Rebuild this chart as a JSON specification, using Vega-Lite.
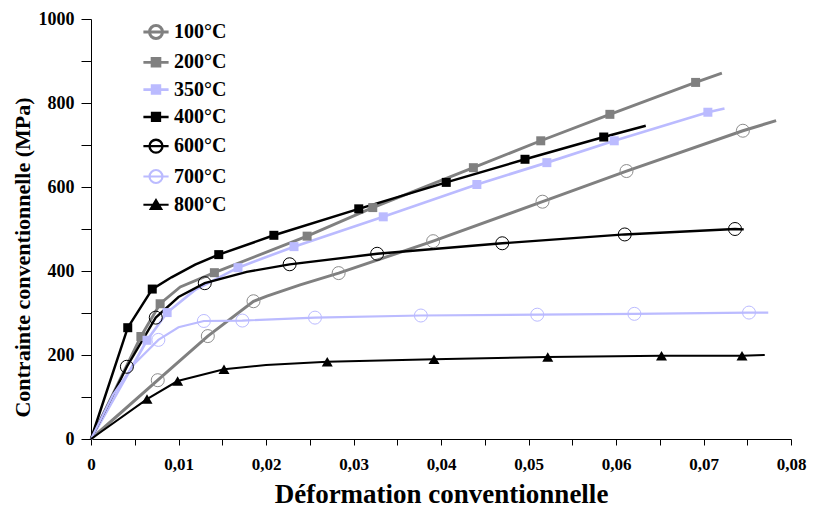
{
  "$schema": "https://vega.github.io/schema/vega-lite/v6.json",
  "width": 700,
  "height": 420,
  "autosize": {"type": "none"},
  "padding": {"left": 91, "top": 19, "right": 30, "bottom": 68},
  "background": "white",
  "config": {
    "view": {"stroke": null},
    "font": "Liberation Serif",
    "axis": {
      "grid": false,
      "domainColor": "black",
      "tickColor": "black",
      "labelFont": "Liberation Serif",
      "labelFontWeight": "bold",
      "labelColor": "black",
      "labelFontSize": 17,
      "titleFont": "Liberation Serif",
      "titleFontWeight": "bold",
      "titleColor": "black"
    }
  },
  "data": {
    "values": [
      {"serie": "100°C", "e": 0, "s": 0, "m": 0},
      {"serie": "100°C", "e": 0.00763, "s": 140, "m": 1},
      {"serie": "100°C", "e": 0.01335, "s": 245, "m": 1},
      {"serie": "100°C", "e": 0.01857, "s": 328, "m": 1},
      {"serie": "100°C", "e": 0.0201, "s": 340, "m": 0},
      {"serie": "100°C", "e": 0.0239, "s": 367, "m": 0},
      {"serie": "100°C", "e": 0.0283, "s": 395, "m": 1},
      {"serie": "100°C", "e": 0.0391, "s": 471, "m": 1},
      {"serie": "100°C", "e": 0.0516, "s": 565, "m": 1},
      {"serie": "100°C", "e": 0.0612, "s": 638, "m": 1},
      {"serie": "100°C", "e": 0.0745, "s": 734, "m": 1},
      {"serie": "100°C", "e": 0.0783, "s": 758, "m": 0},

      {"serie": "200°C", "e": 0, "s": 0, "m": 0},
      {"serie": "200°C", "e": 0.0057, "s": 244, "m": 1},
      {"serie": "200°C", "e": 0.0079, "s": 322, "m": 1},
      {"serie": "200°C", "e": 0.0102, "s": 362, "m": 0},
      {"serie": "200°C", "e": 0.0141, "s": 396, "m": 1},
      {"serie": "200°C", "e": 0.0247, "s": 483, "m": 1},
      {"serie": "200°C", "e": 0.0322, "s": 551, "m": 1},
      {"serie": "200°C", "e": 0.0437, "s": 646, "m": 1},
      {"serie": "200°C", "e": 0.0514, "s": 710, "m": 1},
      {"serie": "200°C", "e": 0.0593, "s": 773, "m": 1},
      {"serie": "200°C", "e": 0.0691, "s": 849, "m": 1},
      {"serie": "200°C", "e": 0.0721, "s": 871, "m": 0},

      {"serie": "350°C", "e": 0, "s": 0, "m": 0},
      {"serie": "350°C", "e": 0.0064, "s": 235, "m": 1},
      {"serie": "350°C", "e": 0.0087, "s": 301, "m": 1},
      {"serie": "350°C", "e": 0.0119, "s": 355, "m": 0},
      {"serie": "350°C", "e": 0.0168, "s": 408, "m": 1},
      {"serie": "350°C", "e": 0.0232, "s": 458, "m": 1},
      {"serie": "350°C", "e": 0.0334, "s": 529, "m": 1},
      {"serie": "350°C", "e": 0.0441, "s": 606, "m": 1},
      {"serie": "350°C", "e": 0.0521, "s": 658, "m": 1},
      {"serie": "350°C", "e": 0.0598, "s": 710, "m": 1},
      {"serie": "350°C", "e": 0.0705, "s": 778, "m": 1},
      {"serie": "350°C", "e": 0.0724, "s": 787, "m": 0},

      {"serie": "400°C", "e": 0, "s": 0, "m": 0},
      {"serie": "400°C", "e": 0.0042, "s": 265, "m": 1},
      {"serie": "400°C", "e": 0.0070, "s": 357, "m": 1},
      {"serie": "400°C", "e": 0.0092, "s": 385, "m": 0},
      {"serie": "400°C", "e": 0.0119, "s": 415, "m": 0},
      {"serie": "400°C", "e": 0.0146, "s": 439, "m": 1},
      {"serie": "400°C", "e": 0.0209, "s": 485, "m": 1},
      {"serie": "400°C", "e": 0.0306, "s": 548, "m": 1},
      {"serie": "400°C", "e": 0.0406, "s": 611, "m": 1},
      {"serie": "400°C", "e": 0.0496, "s": 666, "m": 1},
      {"serie": "400°C", "e": 0.0586, "s": 719, "m": 1},
      {"serie": "400°C", "e": 0.0634, "s": 746, "m": 0},

      {"serie": "600°C", "e": 0, "s": 0, "m": 0},
      {"serie": "600°C", "e": 0.0041, "s": 172, "m": 1},
      {"serie": "600°C", "e": 0.0074, "s": 289, "m": 1},
      {"serie": "600°C", "e": 0.0100, "s": 338, "m": 0},
      {"serie": "600°C", "e": 0.0130, "s": 371, "m": 1},
      {"serie": "600°C", "e": 0.0178, "s": 398, "m": 0},
      {"serie": "600°C", "e": 0.0227, "s": 416, "m": 1},
      {"serie": "600°C", "e": 0.0327, "s": 441, "m": 1},
      {"serie": "600°C", "e": 0.0470, "s": 466, "m": 1},
      {"serie": "600°C", "e": 0.0610, "s": 487, "m": 1},
      {"serie": "600°C", "e": 0.0736, "s": 500, "m": 1},
      {"serie": "600°C", "e": 0.0746, "s": 499, "m": 0},

      {"serie": "700°C", "e": 0, "s": 0, "m": 0},
      {"serie": "700°C", "e": 0.0025, "s": 105, "m": 0},
      {"serie": "700°C", "e": 0.0050, "s": 180, "m": 0},
      {"serie": "700°C", "e": 0.0077, "s": 236, "m": 1},
      {"serie": "700°C", "e": 0.0100, "s": 266, "m": 0},
      {"serie": "700°C", "e": 0.0129, "s": 281, "m": 1},
      {"serie": "700°C", "e": 0.0173, "s": 282, "m": 1},
      {"serie": "700°C", "e": 0.0256, "s": 289, "m": 1},
      {"serie": "700°C", "e": 0.0377, "s": 294, "m": 1},
      {"serie": "700°C", "e": 0.0510, "s": 296, "m": 1},
      {"serie": "700°C", "e": 0.0621, "s": 298, "m": 1},
      {"serie": "700°C", "e": 0.0752, "s": 301, "m": 1},
      {"serie": "700°C", "e": 0.0774, "s": 301, "m": 0},

      {"serie": "800°C", "e": 0, "s": 0, "m": 0},
      {"serie": "800°C", "e": 0.0064, "s": 95, "m": 1},
      {"serie": "800°C", "e": 0.0099, "s": 138, "m": 1},
      {"serie": "800°C", "e": 0.0152, "s": 166, "m": 1},
      {"serie": "800°C", "e": 0.0200, "s": 176, "m": 0},
      {"serie": "800°C", "e": 0.0270, "s": 184, "m": 1},
      {"serie": "800°C", "e": 0.0392, "s": 190, "m": 1},
      {"serie": "800°C", "e": 0.0522, "s": 195, "m": 1},
      {"serie": "800°C", "e": 0.0652, "s": 198, "m": 1},
      {"serie": "800°C", "e": 0.0744, "s": 198, "m": 1},
      {"serie": "800°C", "e": 0.0770, "s": 200, "m": 0}
    ]
  },
  "layer": [
    {
      "mark": {"type": "line"},
      "encoding": {
        "x": {
          "field": "e",
          "type": "quantitative",
          "scale": {"domain": [0, 0.08], "nice": false},
          "axis": {
            "title": "Déformation conventionnelle",
            "titleFontSize": 27,
            "titleY": 55,
            "titleBaseline": "middle",
            "values": [0, 0.005, 0.01, 0.015, 0.02, 0.025, 0.03, 0.035, 0.04, 0.045, 0.05, 0.055, 0.06, 0.065, 0.07, 0.075, 0.08],
            "labelExpr": "round(datum.value * 1000) % 10 === 0 ? (datum.value === 0 ? '0' : replace(format(datum.value, '.2f'), '.', ',')) : ''",
            "labelFlush": false,
            "labelOverlap": false,
            "tickSize": 6,
            "labelPadding": 11
          }
        },
        "y": {
          "field": "s",
          "type": "quantitative",
          "scale": {"domain": [0, 1000], "nice": false},
          "axis": {
            "title": "Contrainte conventionnelle (MPa)",
            "titleFontSize": 22,
            "titleX": -69,
            "titleY": 238,
            "titleBaseline": "middle",
            "titleAlign": "center",
            "values": [0, 100, 200, 300, 400, 500, 600, 700, 800, 900, 1000],
            "labelExpr": "datum.value % 200 === 0 ? format(datum.value, 'd') : ''",
            "labelOverlap": false,
            "tickSize": 10,
            "labelPadding": 7,
            "labelFontSize": 18,
            "encode": {"ticks": {"update": {"x2": {"signal": "datum.value % 200 === 0 ? -10 : -4.5"}}}}
          }
        },
        "color": {
          "field": "serie",
          "type": "nominal",
          "scale": {
            "domain": ["100°C", "200°C", "350°C", "400°C", "600°C", "700°C", "800°C"],
            "range": ["#808080", "#808080", "#bbbbff", "#000000", "#000000", "#bbbbff", "#000000"]
          },
          "legend": {
            "title": null,
            "orient": "none",
            "legendX": 55,
            "legendY": 3,
            "padding": 0,
            "symbolSize": 144,
            "symbolOffset": 0,
            "labelOffset": 8,
            "rowPadding": 7.3,
            "labelFont": "Liberation Serif",
            "labelFontWeight": "bold",
            "labelFontSize": 20,
            "labelColor": "black",
            "encode": {
              "symbols": {
                "update": {
                  "shape": {"signal": "(datum.value === '100°C' || datum.value === '600°C' || datum.value === '700°C') ? 'M-2.1,0H2.1M-1.08,0A1.08,1.08,0,1,0,1.08,0A1.08,1.08,0,1,0,-1.08,0Z' : (datum.value === '800°C' ? 'M-2.1,0H2.1M0,-0.8L0.9,0.7H-0.9Z' : 'M-2.1,0H2.1M-0.65,-0.65H0.65V0.65H-0.65Z')"},
                  "fill": {"signal": "(datum.value === '100°C' || datum.value === '600°C' || datum.value === '700°C') ? 'transparent' : scale('color', datum.value)"},
                  "stroke": {"signal": "scale('color', datum.value)"},
                  "strokeWidth": {"signal": "datum.value === '800°C' ? 1 : 2"},
                  "opacity": {"value": 1}
                }
              }
            }
          }
        },
        "strokeWidth": {
          "field": "serie",
          "type": "ordinal",
          "scale": {
            "domain": ["100°C", "200°C", "350°C", "400°C", "600°C", "700°C", "800°C"],
            "range": [3, 2, 2, 2, 2.5, 3, 1]
          },
          "legend": null
        },
        "order": {"field": "e", "type": "quantitative"}
      }
    },
    {
      "transform": [{"filter": "datum.m == 1 && datum.serie == '100°C'"}],
      "mark": {"type": "point", "shape": "circle", "size": 169, "filled": false, "stroke": "#8c8c8c", "strokeWidth": 1, "opacity": 1},
      "encoding": {"x": {"field": "e", "type": "quantitative"}, "y": {"field": "s", "type": "quantitative"}}
    },
    {
      "transform": [{"filter": "datum.m == 1 && datum.serie == '200°C'"}],
      "mark": {"type": "point", "shape": "square", "size": 81, "filled": true, "fill": "#808080", "opacity": 1},
      "encoding": {"x": {"field": "e", "type": "quantitative"}, "y": {"field": "s", "type": "quantitative"}}
    },
    {
      "transform": [{"filter": "datum.m == 1 && datum.serie == '350°C'"}],
      "mark": {"type": "point", "shape": "square", "size": 81, "filled": true, "fill": "#bbbbff", "opacity": 1},
      "encoding": {"x": {"field": "e", "type": "quantitative"}, "y": {"field": "s", "type": "quantitative"}}
    },
    {
      "transform": [{"filter": "datum.m == 1 && datum.serie == '400°C'"}],
      "mark": {"type": "point", "shape": "square", "size": 81, "filled": true, "fill": "#000000", "opacity": 1},
      "encoding": {"x": {"field": "e", "type": "quantitative"}, "y": {"field": "s", "type": "quantitative"}}
    },
    {
      "transform": [{"filter": "datum.m == 1 && datum.serie == '600°C'"}],
      "mark": {"type": "point", "shape": "circle", "size": 169, "filled": false, "stroke": "#000000", "strokeWidth": 1, "opacity": 1},
      "encoding": {"x": {"field": "e", "type": "quantitative"}, "y": {"field": "s", "type": "quantitative"}}
    },
    {
      "transform": [{"filter": "datum.m == 1 && datum.serie == '700°C'"}],
      "mark": {"type": "point", "shape": "circle", "size": 169, "filled": false, "stroke": "#bbbbff", "strokeWidth": 1, "opacity": 1},
      "encoding": {"x": {"field": "e", "type": "quantitative"}, "y": {"field": "s", "type": "quantitative"}}
    },
    {
      "transform": [{"filter": "datum.m == 1 && datum.serie == '800°C'"}],
      "mark": {"type": "point", "shape": "triangle-up", "size": 121, "filled": true, "fill": "#000000", "opacity": 1},
      "encoding": {"x": {"field": "e", "type": "quantitative"}, "y": {"field": "s", "type": "quantitative"}}
    }
  ]
}
